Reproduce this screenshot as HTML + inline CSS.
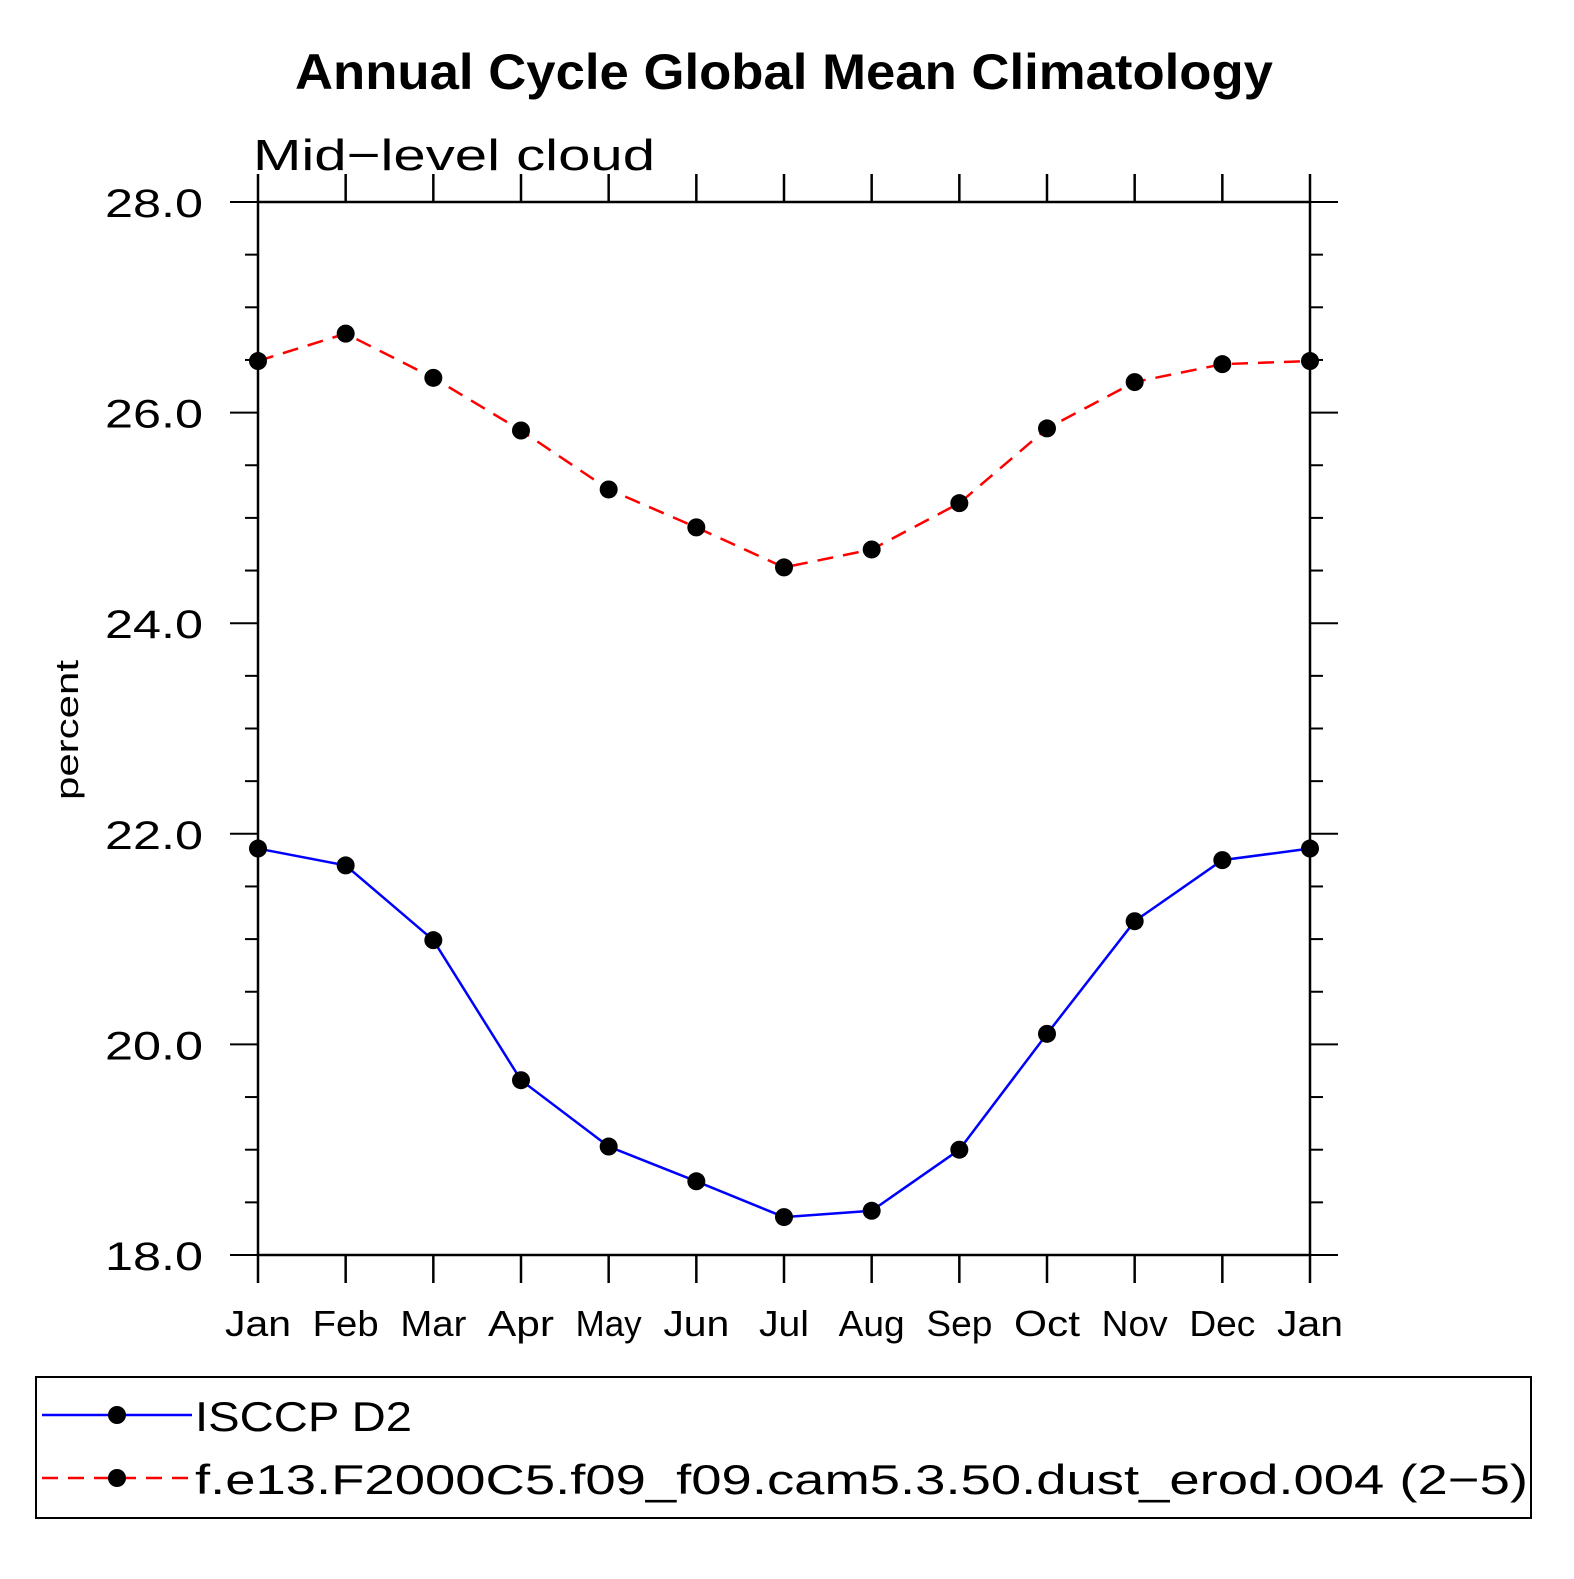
<!DOCTYPE html>
<html><head><meta charset="utf-8"><style>
html,body{margin:0;padding:0;background:#fff;}
svg text{font-family:"Liberation Sans",sans-serif;}
</style></head><body>
<svg width="1574" height="1574" viewBox="0 0 1574 1574" xmlns="http://www.w3.org/2000/svg">
<text x="295" y="89" textLength="978" lengthAdjust="spacingAndGlyphs" font-size="50" font-weight="bold">Annual Cycle Global Mean Climatology</text>
<text x="253" y="170" textLength="402" lengthAdjust="spacingAndGlyphs" font-size="44">Mid−level cloud</text>
<text transform="translate(78,730) rotate(-90)" text-anchor="middle" textLength="140" lengthAdjust="spacingAndGlyphs" font-size="32">percent</text>
<g id="axes"></g>
<g id="series"></g>
<rect x="36" y="1377" width="1495" height="141" fill="none" stroke="#000" stroke-width="2"/>
<g>
<line x1="42" y1="1415" x2="192" y2="1415" stroke="#0000ff" stroke-width="2.5"/>
<circle cx="117" cy="1415" r="9" fill="#000"/>
<text x="195" y="1431" font-size="42" textLength="217" lengthAdjust="spacingAndGlyphs">ISCCP D2</text></g>
<g>
<line x1="42" y1="1478" x2="192" y2="1478" stroke="#ff0000" stroke-width="2.5" stroke-dasharray="16,10"/>
<circle cx="117" cy="1478" r="9" fill="#000"/>
<text x="195" y="1494" font-size="42" textLength="1333" lengthAdjust="spacingAndGlyphs">f.e13.F2000C5.f09_f09.cam5.3.50.dust_erod.004 (2−5)</text></g>
</svg>
<script>
const months=["Jan","Feb","Mar","Apr","May","Jun","Jul","Aug","Sep","Oct","Nov","Dec","Jan"];
const isccp=[21.86,21.70,20.99,19.66,19.03,18.70,18.36,18.42,19.00,20.10,21.17,21.75,21.86];
const model=[26.49,26.75,26.33,25.83,25.27,24.91,24.53,24.70,25.14,25.85,26.29,26.46,26.49];
const yTicks=[18,20,22,24,26,28];
const yMin=18,yMax=28,X0=258,X1=1310,Y0=1255,Y1=202;
const NS="http://www.w3.org/2000/svg";
function xs(i){return X0+(X1-X0)*i/(months.length-1);}
function ys(v){return Y0-(v-yMin)/(yMax-yMin)*(Y0-Y1);}
function mk(tag,attrs,parent){const e=document.createElementNS(NS,tag);for(const k in attrs)e.setAttribute(k,attrs[k]);parent.appendChild(e);return e;}
const ax=document.getElementById('axes');
const fr=mk('rect',{x:X0,y:Y1,width:X1-X0,height:Y0-Y1,fill:'none',stroke:'#000','stroke-width':2.5},ax);


months.forEach((m,i)=>{const x=xs(i);
mk('line',{x1:x,y1:Y0,x2:x,y2:Y0+28,stroke:'#000','stroke-width':2.5},ax);
mk('line',{x1:x,y1:Y1,x2:x,y2:Y1-28,stroke:'#000','stroke-width':2.5},ax);
const t=mk('text',{x:x,y:1336,'text-anchor':'middle','font-size':36,textLength:(m==="Jul"?50:66),lengthAdjust:'spacingAndGlyphs'},ax);t.textContent=m;

});
for(let v=yMin;v<=yMax+1e-9;v+=0.5){const y=ys(v);const major=Math.abs(v/2-Math.round(v/2))<1e-6;const L=major?28:13;
mk('line',{x1:X0-L,y1:y,x2:X0,y2:y,stroke:'#000','stroke-width':2},ax);
mk('line',{x1:X1,y1:y,x2:X1+L,y2:y,stroke:'#000','stroke-width':2},ax);}
yTicks.forEach(v=>{const t=mk('text',{x:203,y:ys(v)+15,'text-anchor':'end','font-size':40,textLength:98,lengthAdjust:'spacingAndGlyphs'},ax);t.textContent=v.toFixed(1);

});
const sg=document.getElementById('series');
function draw(vals,color,dash,name){const g=mk('g',{},sg);


mk('polyline',{points:vals.map((v,i)=>xs(i)+','+ys(v)).join(' '),fill:'none',stroke:color,'stroke-width':2.5,'stroke-dasharray':dash},g);
vals.forEach((v,i)=>{const c=mk('circle',{cx:xs(i),cy:ys(v),r:9,fill:'#000'},g);

});}
draw(isccp,'#0000ff','none','isccp-series');
draw(model,'#ff0000','16,10','model-series');
</script>
</body></html>
